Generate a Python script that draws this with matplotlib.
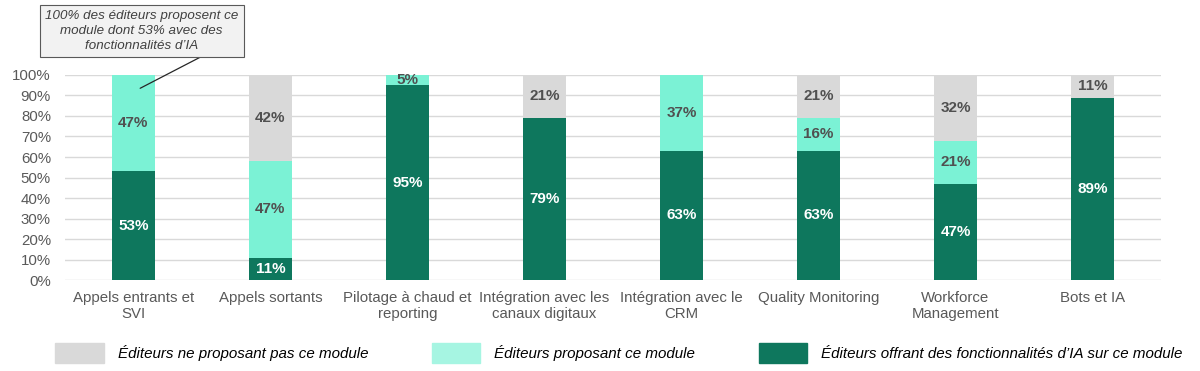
import numpy as np
import matplotlib
matplotlib.use("Agg")
import matplotlib.pyplot as plt
from matplotlib.patches import Patch

plt.rcParams['font.family'] = ['Liberation Sans', 'DejaVu Sans']

# donnees du graphique
categories = ["Appels entrants et\nSVI", "Appels sortants", "Pilotage à chaud et\nreporting",
              "Intégration avec les\ncanaux digitaux", "Intégration avec le\nCRM",
              "Quality Monitoring", "Workforce\nManagement", "Bots et IA"]
ia = [53, 11, 95, 79, 63, 63, 47, 89]
proposant = [47, 47, 5, 0, 37, 16, 21, 0]
non_proposant = [0, 42, 0, 21, 0, 21, 32, 11]
legende = ["Éditeurs ne proposant pas ce module", "Éditeurs proposant ce module",
           "Éditeurs offrant des fonctionnalités d\u2019IA sur ce module"]
note = "100% des éditeurs proposent ce\nmodule dont 53% avec des\nfonctionnalités d\u2019IA"

vert = "#0E775D"
menthe = "#7BF2D5"
gris = "#D9D9D9"
texte = "#595959"

fig = plt.figure(figsize=(12, 3.71), dpi=100)
ax = fig.add_axes([0.054, 0.245, 0.9135, 0.553])

x = np.arange(len(categories))
w = 0.315
b1 = ax.bar(x, ia, w, color=vert, zorder=3)
b2 = ax.bar(x, proposant, w, bottom=ia, color=menthe, zorder=3)
bas3 = np.array(ia) + np.array(proposant)
b3 = ax.bar(x, non_proposant, w, bottom=bas3, color=gris, zorder=3)

for bars, vals, col in [(b1, ia, "white"), (b2, proposant, "#505050"), (b3, non_proposant, "#505050")]:
    for r, v in zip(bars, vals):
        if v == 0:
            continue
        ax.text(r.get_x() + r.get_width() / 2, r.get_y() + r.get_height() / 2, f"{v}%",
                ha="center", va="center", color=col, fontsize=11, fontweight="bold", zorder=4)

ax.set_xlim(-0.5, len(categories) - 0.5)
ax.set_ylim(0, 100)
ax.set_yticks(np.arange(0, 101, 10))
ax.set_yticklabels([f"{t}%" for t in range(0, 101, 10)])
ax.set_xticks(x)
ax.set_xticklabels(categories)
ax.tick_params(axis="both", length=0, labelsize=10.8, colors=texte)
ax.tick_params(axis="y", pad=10)
ax.tick_params(axis="x", pad=8)
ax.yaxis.grid(True, color="#D9D9D9", linewidth=1, zorder=0)
for s in ["top", "right", "left", "bottom"]:
    ax.spines[s].set_visible(False)

ax.annotate(note, xy=(0.05, 93.5), xytext=(0.06, 121.5), textcoords="data",
            ha="center", va="center", fontsize=9.6, style="italic", color="#404040",
            linespacing=1.3, annotation_clip=False,
            bbox=dict(boxstyle="square,pad=0.4", fc="#F2F2F2", ec="#595959", lw=0.8),
            arrowprops=dict(arrowstyle="-", color="#262626", lw=0.9, relpos=(0.86, 0),
                            shrinkA=0, shrinkB=0))

handles = [Patch(color=gris), Patch(color="#A6F5E2"), Patch(color=vert)]
leg = fig.legend(handles, legende, loc="center left", bbox_to_anchor=(0.0346, 0.0485), ncol=3,
                 frameon=False, handlelength=3.2, handleheight=1.6, handletextpad=0.93,
                 columnspacing=4.2, prop=dict(style="italic", size=10.9))
for t in leg.get_texts():
    t.set_color("black")

fig.savefig("out.png", dpi=100)
